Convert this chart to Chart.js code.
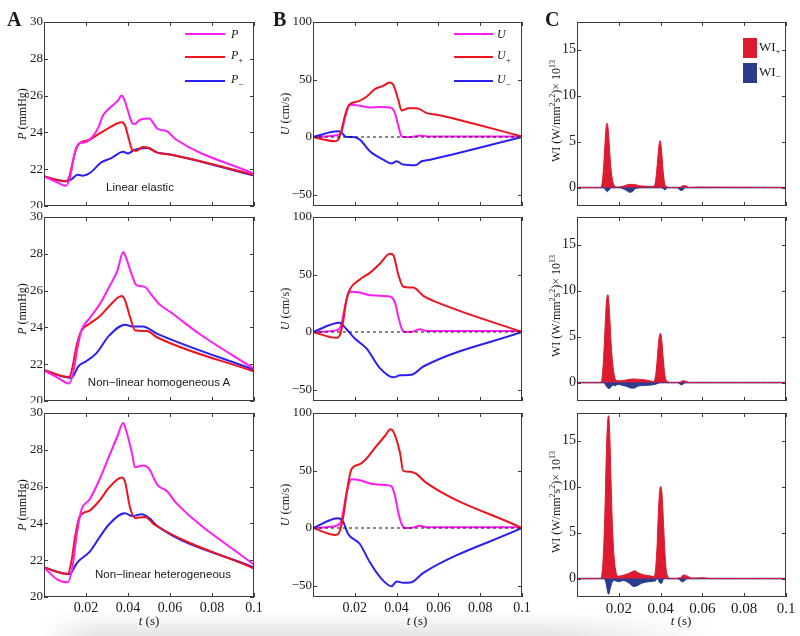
<!DOCTYPE html>
<html>
<head>
<meta charset="utf-8">
<script src="https://cdn.jsdelivr.net/npm/chart.js@4.4.0/dist/chart.umd.min.js"></script>
<style>
  body { margin: 0; background: #fff; }
  #fig { position: relative; width: 800px; height: 636px; overflow: hidden; font-family: "Liberation Serif", serif; color: #1a1a1a; }
  .panel { position: absolute; overflow: hidden; }
  .txt { position: absolute; white-space: nowrap; line-height: 1; }
  .letter { font-weight: bold; font-size: 20px; }
  .ytitle { font-size: 12px; transform: translate(-50%, -50%) rotate(-90deg); }
  .xtitle { font-size: 13px; transform: translate(-50%, -50%); }
  .note { font-family: "Liberation Sans", Arial, sans-serif; font-size: 11.5px; transform: translate(-50%, -50%); }
  .leg { font-size: 12px; font-style: italic; transform: translateY(-50%); }
  .leg sub, .legc sub { font-style: normal; font-size: 9px; }
  .legc { font-size: 13px; transform: translateY(-50%); }
  .swl { position: absolute; height: 2px; }
  .sq { position: absolute; }
  #shade { position: absolute; left: 40px; top: 612px; width: 680px; height: 24px;
    background: linear-gradient(to bottom, rgba(255,255,255,0), rgba(205,205,205,0.55));
    -webkit-mask-image: linear-gradient(to right, transparent, #000 8%, #000 75%, transparent);
    mask-image: linear-gradient(to right, transparent, #000 8%, #000 75%, transparent); }
</style>
</head>
<body>
<div id="fig"><div id="shade"></div></div>
<script>
// ---- data (t in s) ----
const xTicks = [0, 0.02, 0.04, 0.06, 0.08, 0.1];
const yTicksP = [20, 22, 24, 26, 28, 30];
const yTicksU = [-50, 0, 50, 100];
const yTicksW = [0, 5, 10, 15];
const notes = ['Linear elastic', 'Non\u2212linear homogeneous A', 'Non\u2212linear heterogeneous'];

// column A: pressure, mmHg
const tP1 = [0, 0.005, 0.0104, 0.0125, 0.0145, 0.0167, 0.019, 0.023, 0.026, 0.028, 0.031, 0.035, 0.037, 0.0385, 0.042, 0.043, 0.046, 0.05, 0.054, 0.0586, 0.063, 0.1];
const vP1 = [21.6, 21.35, 21.1, 21.6, 22.8, 23.4, 23.45, 23.75, 24.3, 24.9, 25.3, 25.7, 26.0, 25.7, 24.5, 24.45, 24.7, 24.75, 24.2, 24.05, 23.6, 21.75];
const tPp1 = [0, 0.0104, 0.0118, 0.0135, 0.0152, 0.0169, 0.0217, 0.0265, 0.031, 0.035, 0.037, 0.0385, 0.0405, 0.042, 0.044, 0.047, 0.05, 0.054, 0.06, 0.1];
const vPp1 = [21.6, 21.35, 21.5, 22.3, 23.1, 23.4, 23.6, 23.95, 24.25, 24.5, 24.55, 24.4, 23.6, 23.05, 23.0, 23.2, 23.15, 22.9, 22.8, 21.7];
const tPm1 = [0, 0.0104, 0.013, 0.016, 0.0185, 0.0225, 0.027, 0.032, 0.0377, 0.04, 0.043, 0.049, 0.054, 0.06, 0.1];
const vPm1 = [21.6, 21.35, 21.45, 21.7, 21.65, 21.85, 22.35, 22.6, 22.95, 22.85, 23.05, 23.15, 22.9, 22.8, 21.65];

const tP2 = [0, 0.006, 0.012, 0.014, 0.016, 0.0177, 0.0217, 0.0265, 0.031, 0.035, 0.0377, 0.039, 0.042, 0.044, 0.048, 0.051, 0.055, 0.06, 0.0746, 0.1];
const vP2 = [21.67, 21.3, 20.95, 21.6, 22.9, 23.8, 24.5, 25.25, 26.2, 27.1, 28.1, 27.8, 26.8, 26.3, 26.2, 25.8, 25.25, 24.85, 23.6, 21.75];
const tPp2 = [0, 0.012, 0.0135, 0.0155, 0.0177, 0.0217, 0.0265, 0.031, 0.037, 0.0385, 0.041, 0.0433, 0.049, 0.054, 0.1];
const vPp2 = [21.67, 21.3, 21.8, 23.0, 23.8, 24.2, 24.6, 25.15, 25.7, 25.5, 24.55, 23.85, 23.8, 23.45, 21.6];
const tPm2 = [0, 0.013, 0.0165, 0.02, 0.025, 0.031, 0.0385, 0.042, 0.047, 0.054, 0.1];
const vPm2 = [21.67, 21.25, 21.9, 22.15, 22.6, 23.55, 24.15, 24.05, 24.05, 23.65, 21.7];

const tP3 = [0, 0.0064, 0.0113, 0.0135, 0.0155, 0.0177, 0.0217, 0.0265, 0.031, 0.035, 0.0377, 0.039, 0.042, 0.0433, 0.047, 0.0498, 0.054, 0.0586, 0.063, 0.1];
const vP3 = [21.6, 20.95, 20.8, 21.6, 23.3, 24.7, 25.3, 26.4, 27.65, 28.75, 29.45, 29.1, 27.75, 27.05, 27.15, 27.0, 26.1, 25.75, 25.1, 21.75];
const tPp3 = [0, 0.0113, 0.013, 0.015, 0.0169, 0.0217, 0.0265, 0.031, 0.037, 0.0385, 0.041, 0.0433, 0.048, 0.053, 0.1];
const vPp3 = [21.6, 21.25, 21.9, 23.4, 24.35, 24.7, 25.25, 25.95, 26.5, 26.3, 24.85, 24.3, 24.35, 23.9, 21.55];
const tPm3 = [0, 0.012, 0.016, 0.0217, 0.0265, 0.031, 0.0385, 0.042, 0.0466, 0.05, 0.054, 0.1];
const vPm3 = [21.6, 21.25, 21.9, 22.45, 23.25, 23.95, 24.55, 24.4, 24.5, 24.3, 23.85, 21.6];

// column B: velocity, cm/s
const tU1 = [0, 0.0112, 0.0135, 0.0155, 0.0176, 0.0224, 0.0272, 0.032, 0.0376, 0.0392, 0.0408, 0.0424, 0.044, 0.048, 0.052, 0.0544, 0.1];
const vU1 = [0, 1.5, 4, 18, 28, 27.2, 25.7, 26, 25.1, 20.8, 10, 0.6, 0, 0.3, 1.4, 0.5, 0.5];
const tUp1 = [0, 0.0104, 0.012, 0.0135, 0.0155, 0.0173, 0.0216, 0.0256, 0.0296, 0.0336, 0.0368, 0.0384, 0.0408, 0.0424, 0.0456, 0.0496, 0.0544, 0.0592, 0.1];
const vUp1 = [0, -3.7, -2.5, 5, 20, 28, 31, 35, 41.6, 44.5, 47.4, 45.5, 32.4, 23.1, 25.1, 25.1, 20.8, 19.4, 0.5];
const tUm1 = [0, 0.012, 0.0135, 0.016, 0.0192, 0.0224, 0.0272, 0.0336, 0.0376, 0.04, 0.0432, 0.0488, 0.052, 0.056, 0.1];
const vUm1 = [0, 4.9, 4, 0, 0, -2.3, -12.4, -19.7, -23.1, -21.1, -24, -24.6, -21.1, -19.7, 0];

const tU2 = [0, 0.0112, 0.0135, 0.0155, 0.0176, 0.0224, 0.0272, 0.0368, 0.0392, 0.041, 0.0424, 0.044, 0.048, 0.0512, 0.0544, 0.1];
const vU2 = [0, 1.4, 6, 24, 34.9, 34.3, 32, 30.9, 25.7, 12, 2.9, 0, 0.5, 2.3, 0.9, 0.9];
const tUp2 = [0, 0.0112, 0.0128, 0.0145, 0.016, 0.0176, 0.0224, 0.0272, 0.032, 0.0368, 0.0384, 0.0408, 0.0432, 0.048, 0.0528, 0.0576, 0.1];
const vUp2 = [0, -5.1, -3, 10, 28, 37, 45.7, 51.4, 59.4, 68, 67, 50, 39.4, 38.6, 31.4, 27.1, 0];
const tUm2 = [0, 0.0128, 0.0144, 0.02, 0.0256, 0.032, 0.0384, 0.0416, 0.0472, 0.0528, 0.1];
const vUm2 = [0, 8, 5.7, -5.7, -14.3, -31.4, -39.4, -37.7, -37.1, -30, 0];

const tU3 = [0, 0.0112, 0.0135, 0.016, 0.0184, 0.0224, 0.0272, 0.0352, 0.0376, 0.0392, 0.041, 0.0424, 0.044, 0.048, 0.0512, 0.0544, 0.1];
const vU3 = [0, 2, 6, 30, 42.5, 41.6, 38.7, 37.3, 36.1, 28, 12, 3.5, 0, 0.5, 2, 0.6, 0.6];
const tUp3 = [0, 0.0109, 0.0125, 0.0145, 0.0165, 0.0184, 0.0224, 0.0256, 0.0304, 0.0344, 0.0371, 0.0384, 0.0416, 0.0432, 0.0472, 0.0496, 0.0544, 0.1];
const vUp3 = [0, -6.1, -4, 10, 35, 51, 55.5, 60.4, 71.4, 80, 85.8, 84, 65.6, 49.7, 48.8, 46.8, 39, 0];
const tUm3 = [0, 0.012, 0.0144, 0.0168, 0.0224, 0.0272, 0.0328, 0.0376, 0.04, 0.0432, 0.0472, 0.0528, 0.1];
const vUm3 = [0, 8.4, 5.5, -5.2, -13.9, -29.8, -44.2, -50.6, -46.5, -47.7, -47.1, -39, 0];

// column C: wave intensity, x 1e13
const tWp1 = [0, 0.0112, 0.012, 0.0128, 0.0134, 0.0139, 0.0144, 0.0149, 0.0155, 0.0162, 0.017, 0.0178, 0.019, 0.022, 0.025, 0.027, 0.03, 0.033, 0.036, 0.0372, 0.038, 0.0388, 0.0395, 0.0398, 0.0404, 0.041, 0.0417, 0.0425, 0.045, 0.0495, 0.0505, 0.052, 0.0535, 0.058, 0.1];
const vWp1 = [0, 0, 0.5, 2.5, 4.8, 6.5, 7.0, 6.4, 4.5, 2.2, 0.8, 0.25, 0.05, 0.15, 0.35, 0.35, 0.2, 0.15, 0.1, 0.3, 1.5, 3.6, 5.0, 5.1, 4.2, 2.4, 0.8, 0.15, 0, 0, 0.2, 0.2, 0, 0.05, 0];
const tWm1 = [0, 0.0125, 0.0138, 0.0145, 0.0152, 0.0165, 0.02, 0.0235, 0.025, 0.0265, 0.028, 0.032, 0.0405, 0.042, 0.0435, 0.048, 0.0495, 0.0505, 0.0515, 0.1];
const vWm1 = [0, 0, -0.3, -0.45, -0.3, 0, 0, -0.3, -0.5, -0.45, -0.1, 0, 0, -0.25, 0, 0, -0.3, -0.3, 0, 0];

const tWp2 = [0, 0.0112, 0.012, 0.0128, 0.0135, 0.0141, 0.0147, 0.0151, 0.0157, 0.0164, 0.0172, 0.018, 0.019, 0.021, 0.024, 0.027, 0.03, 0.034, 0.0365, 0.0372, 0.038, 0.0388, 0.0395, 0.04, 0.0406, 0.0413, 0.042, 0.0428, 0.045, 0.049, 0.0505, 0.052, 0.0535, 0.1];
const vWp2 = [0, 0, 0.5, 3.0, 6.3, 8.8, 9.55, 9.2, 7.0, 4.0, 1.8, 0.6, 0.2, 0.2, 0.3, 0.4, 0.35, 0.25, 0.1, 0.3, 1.5, 3.8, 5.2, 5.35, 4.5, 2.5, 0.9, 0.2, 0, 0, 0.2, 0.15, 0, 0];
const tWm2 = [0, 0.0128, 0.014, 0.0152, 0.0162, 0.0172, 0.018, 0.0195, 0.021, 0.0235, 0.026, 0.0275, 0.029, 0.033, 0.036, 0.038, 0.04, 0.048, 0.05, 0.052, 0.1];
const vWm2 = [0, 0, -0.4, -0.65, -0.5, -0.25, -0.35, -0.2, -0.25, -0.4, -0.6, -0.6, -0.4, -0.3, -0.25, -0.15, 0, 0, -0.25, 0, 0];

const tWp3 = [0, 0.0112, 0.012, 0.0128, 0.0135, 0.0141, 0.0147, 0.0152, 0.0157, 0.0163, 0.017, 0.0178, 0.0186, 0.0195, 0.021, 0.024, 0.026, 0.0277, 0.029, 0.032, 0.035, 0.0368, 0.0375, 0.0383, 0.039, 0.0396, 0.0402, 0.0408, 0.0415, 0.0423, 0.043, 0.045, 0.0495, 0.051, 0.0525, 0.055, 0.06, 0.064, 0.1];
const vWp3 = [0, 0, 0.6, 3.5, 8.5, 14.0, 17.2, 17.7, 15.5, 10.5, 5.5, 2.2, 0.8, 0.25, 0.3, 0.5, 0.7, 0.85, 0.65, 0.4, 0.3, 0.2, 0.8, 3.5, 7.5, 9.6, 10.0, 8.8, 5.5, 2.0, 0.5, 0, 0.1, 0.4, 0.3, 0.05, 0.1, 0, 0];
const tWm3 = [0, 0.013, 0.014, 0.0147, 0.0152, 0.0158, 0.0168, 0.018, 0.02, 0.022, 0.025, 0.027, 0.0285, 0.031, 0.034, 0.036, 0.0375, 0.0385, 0.0398, 0.0405, 0.0415, 0.048, 0.0505, 0.053, 0.1];
const vWm3 = [0, 0, -0.6, -1.5, -1.7, -1.2, -0.4, -0.2, -0.35, -0.2, -0.5, -0.85, -0.8, -0.5, -0.35, -0.3, -0.25, 0, -0.5, -0.5, 0, 0, -0.35, 0, 0];

const tBase = [0, 0.1];
const vBase = [0, 0];

// ---- layout ----
const colLeft = [44, 313, 577];
const colW = [210, 209, 209];
const rowTop = [22, 217, 413];
const PH = 184;
const PAD_L = 40, PAD_T = 10, PAD_R = 16, XH = 22;

const MAG = '#ff1cf5', RED = '#f0141e', BLUE = '#2b1ff2';
const WRED = '#dc1a30', WBLUE = '#2c3c8c';

const fig = document.getElementById('fig');

function pts(ts, vs) { return ts.map((t, i) => ({ x: t, y: vs[i] })); }

function line(ts, vs, color) {
  return { data: pts(ts, vs), borderColor: color, borderWidth: 2, pointRadius: 0, fill: false,
           cubicInterpolationMode: 'monotone' };
}
function area(ts, vs, color) {
  return { data: pts(ts, vs), borderColor: color, backgroundColor: color, borderWidth: 1, pointRadius: 0,
           fill: 'origin', cubicInterpolationMode: 'monotone' };
}
function dashed(color, w, dash) {
  return { data: pts(tBase, vBase), borderColor: color, borderWidth: w, pointRadius: 0, fill: false,
           borderDash: dash };
}

// box with inward ticks on all four sides, MATLAB style
const frameTicks = {
  id: 'frameTicks',
  afterDraw(chart) {
    const { ctx, chartArea: a, scales: { x, y } } = chart;
    ctx.save();
    ctx.strokeStyle = '#3c3c3c';
    ctx.lineWidth = 1;
    ctx.strokeRect(a.left + 0.5, a.top + 0.5, a.width - 1, a.height - 1);
    ctx.beginPath();
    x.ticks.forEach(t => {
      const px = Math.round(x.getPixelForValue(t.value)) + 0.5;
      ctx.moveTo(px, a.bottom); ctx.lineTo(px, a.bottom - 4);
      ctx.moveTo(px, a.top); ctx.lineTo(px, a.top + 4);
    });
    y.ticks.forEach(t => {
      const py = Math.round(y.getPixelForValue(t.value)) + 0.5;
      ctx.moveTo(a.left, py); ctx.lineTo(a.left + 4, py);
      ctx.moveTo(a.right, py); ctx.lineTo(a.right - 4, py);
    });
    ctx.stroke();
    ctx.restore();
  }
};

function makePanel(col, row, datasets, yMin, yMax, yTicks, fontSize) {
  const w = colW[col];
  const cw = PAD_L + w + PAD_R, ch = PAD_T + PH + XH;
  const div = document.createElement('div');
  div.className = 'panel';
  div.style.left = (colLeft[col] - PAD_L) + 'px';
  div.style.top = (rowTop[row] - PAD_T) + 'px';
  div.style.width = cw + 'px';
  // upper rows are cut just under the box, like the original figure
  div.style.height = (row === 2 ? ch : PAD_T + PH + 2) + 'px';
  const cv = document.createElement('canvas');
  cv.width = cw; cv.height = ch;
  div.appendChild(cv);
  fig.appendChild(div);
  const tickFont = { family: '"Liberation Serif", serif', size: fontSize };
  return new Chart(cv, {
    type: 'line',
    data: { datasets },
    options: {
      responsive: false,
      animation: false,
      devicePixelRatio: 1,
      layout: { padding: { left: 0, top: PAD_T, right: PAD_R, bottom: 0 } },
      plugins: { legend: { display: false }, tooltip: { enabled: false } },
      scales: {
        x: {
          type: 'linear', min: 0, max: 0.1,
          afterBuildTicks: s => { s.ticks = xTicks.map(v => ({ value: v })); },
          afterFit: s => { s.height = XH; },
          grid: { display: false, drawTicks: false },
          border: { display: false },
          ticks: { display: row === 2, autoSkip: false, maxRotation: 0, padding: 3,
                   color: '#1a1a1a', font: { family: '"Liberation Serif", serif', size: col === 2 ? 15 : 14 },
                   callback: v => (v === 0 ? '' : String(+v.toFixed(2))) }
        },
        y: {
          min: yMin, max: yMax,
          afterBuildTicks: s => { s.ticks = yTicks.map(v => ({ value: v })); },
          afterFit: s => { s.width = PAD_L; },
          grid: { display: false, drawTicks: false },
          border: { display: false },
          ticks: { padding: 1, color: '#1a1a1a', font: tickFont,
                   callback: v => String(v).replace('-', '\u2212') }
        }
      }
    },
    plugins: [frameTicks]
  });
}

// column A
makePanel(0, 0, [line(tP1, vP1, MAG), line(tPp1, vPp1, RED), line(tPm1, vPm1, BLUE)], 20, 30, yTicksP, 13);
makePanel(0, 1, [line(tP2, vP2, MAG), line(tPp2, vPp2, RED), line(tPm2, vPm2, BLUE)], 20, 30, yTicksP, 13);
makePanel(0, 2, [line(tP3, vP3, MAG), line(tPp3, vPp3, RED), line(tPm3, vPm3, BLUE)], 20, 30, yTicksP, 13);
// column B
makePanel(1, 0, [dashed('#111', 1, [3, 3]), line(tUp1, vUp1, RED), line(tUm1, vUm1, BLUE), line(tU1, vU1, MAG)], -60, 100, yTicksU, 13);
makePanel(1, 1, [dashed('#111', 1, [3, 3]), line(tUp2, vUp2, RED), line(tUm2, vUm2, BLUE), line(tU2, vU2, MAG)], -60, 100, yTicksU, 13);
makePanel(1, 2, [dashed('#111', 1, [3, 3]), line(tUp3, vUp3, RED), line(tUm3, vUm3, BLUE), line(tU3, vU3, MAG)], -60, 100, yTicksU, 13);
// column C
makePanel(2, 0, [area(tWp1, vWp1, WRED), area(tWm1, vWm1, WBLUE), dashed('#3340c0', 1.5, []), dashed(WRED, 1, [3, 3])], -2, 18, yTicksW, 14);
makePanel(2, 1, [area(tWp2, vWp2, WRED), area(tWm2, vWm2, WBLUE), dashed('#3340c0', 1.5, []), dashed(WRED, 1, [3, 3])], -2, 18, yTicksW, 14);
makePanel(2, 2, [area(tWp3, vWp3, WRED), area(tWm3, vWm3, WBLUE), dashed('#3340c0', 1.5, []), dashed(WRED, 1, [3, 3])], -2, 18, yTicksW, 14);

// ---- text overlays ----
function addText(cls, html, left, top) {
  const d = document.createElement('div');
  d.className = 'txt ' + cls;
  d.innerHTML = html;
  d.style.left = left + 'px';
  d.style.top = top + 'px';
  fig.appendChild(d);
  return d;
}
function addBox(cls, left, top, w, h, color) {
  const d = document.createElement('div');
  d.className = cls;
  Object.assign(d.style, { left: left + 'px', top: top + 'px', width: w + 'px', height: h + 'px', background: color });
  fig.appendChild(d);
}

addText('letter', 'A', 7, 9);
addText('letter', 'B', 273, 9);
addText('letter', 'C', 545, 9);

const midY = rowTop.map(t => t + PH / 2);
midY.forEach((cy, r) => {
  addText('ytitle', '<i>P</i> (mmHg)', 22, cy);
  addText('ytitle', '<i>U</i> (cm/s)', 285, cy);
  addText('ytitle', 'WI (W/mm<sup style="font-size:8px">2</sup>s<sup style="font-size:8px">2</sup>)\u00d7 10<sup style="font-size:8px">13</sup>', 555, cy - 3);
});

addText('note', notes[0], 140, 188);
addText('note', notes[1], 159, 383);
addText('note', notes[2], 163, 575);

[149, 417, 681].forEach(cx => addText('xtitle', '<i>t</i> (s)', cx, 620));

// legend A and B
const legY = [34, 57, 81];
const legCol = [MAG, RED, BLUE];
const legA = ['P', 'P<sub>+</sub>', 'P<sub>\u2212</sub>'];
const legB = ['U', 'U<sub>+</sub>', 'U<sub>\u2212</sub>'];
legY.forEach((y, i) => {
  addBox('swl', 185, y - 1, 40, 2, legCol[i]);
  addText('leg', legA[i], 231, y);
  addBox('swl', 454, y - 1, 39, 2, legCol[i]);
  addText('leg', legB[i], 497, y);
});
// legend C
addBox('sq', 743, 38, 14, 20, WRED);
addBox('sq', 743, 63, 14, 20, WBLUE);
addText('legc', 'WI<sub>+</sub>', 759, 48);
addText('legc', 'WI<sub>\u2212</sub>', 759, 73);
</script>
</body>
</html>
